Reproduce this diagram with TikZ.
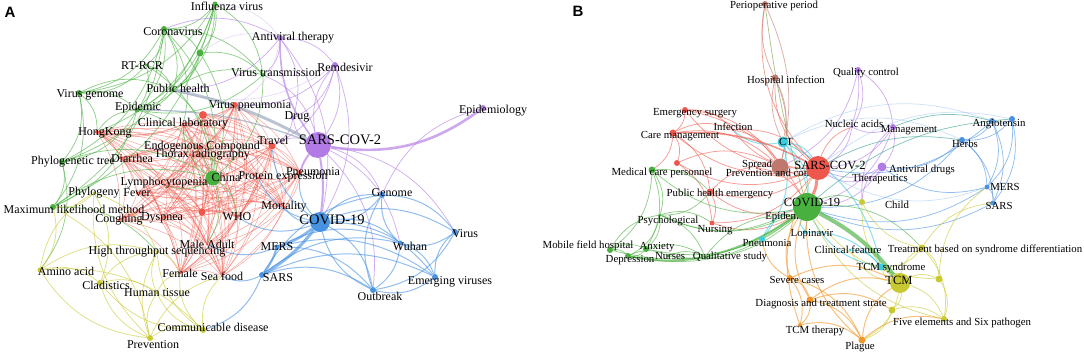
\documentclass[tikz,border=0pt]{standalone}
\usepackage{fontspec}
\setmainfont{Liberation Serif}
\newfontfamily\panelfont{Liberation Sans}
\usetikzlibrary{backgrounds}
\definecolor{cgreen}{RGB}{72,176,62}
\definecolor{cred}{RGB}{238,88,76}
\definecolor{cyel}{RGB}{200,200,48}
\definecolor{cblue}{RGB}{72,146,226}
\definecolor{cpurp}{RGB}{178,122,228}
\definecolor{ccyan}{RGB}{60,205,225}
\definecolor{corange}{RGB}{242,150,40}
\definecolor{cbrown}{RGB}{190,120,110}
\definecolor{cgray}{RGB}{150,165,185}
\definecolor{cteal}{RGB}{50,160,140}

\begin{document}
\begin{tikzpicture}[x=1pt,y=-1pt,
  every node/.style={font=\fontsize{12}{13}\selectfont},
  vtx/.style={circle,inner sep=0pt,minimum size=#1},
  lab/.style={inner sep=0pt,text=black},
  biglab/.style={inner sep=0pt,text=black,font=\fontsize{14.5}{15}\selectfont},
  labB/.style={inner sep=0pt,text=black,font=\fontsize{10.8}{12}\selectfont},
  biglabB/.style={inner sep=0pt,text=black,font=\fontsize{12.5}{13}\selectfont},
  ed/.style={draw=#1,line width=0.75pt,opacity=0.6},
  fat/.style={draw=#1,line width=2.4pt,opacity=0.65},
  panel/.style={font=\panelfont\bfseries\fontsize{15}{15}\selectfont}
]
\useasboundingbox (0,0) rectangle (1084,355);

% panel A: keywords
\foreach \n/\c/\x/\y/\s/\lx/\ly/\t in {
  flu/cgreen/215/4/5/227/6/Influenza virus,
  cor/cgreen/164/29/6/173/32/Coronavirus,
  rtp/cgreen/146/65/3/142/66/RT-RCR,
  vgen/cgreen/79/93/6/90/95/Virus genome,
  pub/cgreen/173/90/4/178/88/Public health,
  epi/cgreen/137/110/5/138/108/Epidemic,
  vpn/cred/235/105/6/250/106/Virus pneumonia,
  clin/cred/183/124/3/183/124/Clinical laboratory,
  hk/cred/97/132/4/105/133/HongKong,
  endo/cred/200/147/4/202/147/Endogenous Compound,
  trav/cred/272/146/7/273/140/Travel,
  diar/cred/120/158/3/132/158/Diarrhea,
  thor/cred/190/155/3/202/155/Thorax radiography,
  phy/cgreen/62/162/6/73/162/Phylogenetic tree,
  vtr/cgreen/263/75/4/276/73/Virus transmission,
  anti/cpurp/280/38/6/293/38/Antiviral therapy,
  rem/cpurp/335/65/6/345/67/Remdesivir,
  epid/cpurp/483/108/6/493/111/Epidemiology,
  drug/cpurp/293/118/4/297/117/Drug,
  pneu/cred/300/172/4/313/172/Pneumonia,
  prot/cred/258/178/3/283/177/Protein expression,
  china/cgreen/213/178/15/226/177/China,
  lym/cred/165/185/3/164/183/Lymphocytopenia,
  phyl/cyel/94/193/3/94/193/Phylogeny,
  fev/cred/137/193/3/137/193/Fever,
  mlm/cgreen/53/207/6/74/209/Maximum likelihood method,
  cough/cred/119/220/3/119/220/Coughing,
  dysp/cred/162/218/3/162/218/Dyspnea,
  who/cred/237/217/3/237/217/WHO,
  mort/cred/284/207/3/284/207/Mortality,
  male/cred/207/244/3/207/244/Male Adult,
  mers/cblue/277/247/5/277/247/MERS,
  hts/cyel/157/252/3/157/252/High throughput sequencing,
  amino/cyel/40/270/5/66/271/Amino acid,
  fem/cred/180/273/3/180/273/Female,
  sea/cred/222/276/3/222/276/Sea food,
  sars/cblue/262/275/6/278/278/SARS,
  clad/cyel/100/283/6/106/285/Cladistics,
  hum/cyel/157/293/3/157/293/Human tissue,
  comm/cyel/203/330/6/213/327/Communicable disease,
  prev/cyel/150/338/6/153/345/Prevention,
  gen/cblue/382/195/6/392/193/Genome,
  vir/cblue/455/232/6/465/234/Virus,
  wuh/cblue/400/243/5/410/246/Wuhan,
  emv/cblue/435/277/6/450/282/Emerging viruses,
  outb/cblue/373/290/6/380/296/Outbreak} {
  \node[vtx=\s pt,fill=\c] (\n) at (\x,\y) {};
  \node[lab] (\n-l) at (\lx,\ly) {\t};
}
\foreach \n/\c/\x/\y/\s/\lx/\ly/\t in {
  sarsA/cpurp/318/145/26/340/140/SARS-COV-2,
  covA/cblue/320/222/20/332/220/COVID-19} {
  \node[vtx=\s pt,fill=\c] (\n) at (\x,\y) {};
  \node[biglab] (\n-l) at (\lx,\ly) {\t};
}
\node[vtx=7pt,fill=cgreen] (gd) at (200,53) {};
\node[vtx=8pt,fill=cred] (rd1) at (203,115) {};
\node[vtx=7pt,fill=cred] (rd2) at (202,212) {};

% panel B: keywords
\foreach \n/\c/\x/\y/\s/\lx/\ly/\t in {
  peri/cbrown/765/4/6/774/6/Perioperative period,
  hosp/cbrown/775/78/7/786/81/Hospital infection,
  qual/cpurp/858/70/6/866/73/Quality control,
  emer/cred/685/110/6/695/113/Emergency surgery,
  inf/cred/733/130/3/733/127/Infection,
  care/cred/673/133/7/680/136/Care management,
  ct/ccyan/783/142/11/786/142/CT,
  nuc/cpurp/852/127/3/854/124/Nucleic acids,
  mgmt/cpurp/893/127/6/909/130/Management,
  ang/cblue/992/121/6/999/124/Angiotensin,
  herb/cblue/962/140/6/965/144/Herbs,
  pac/cbrown/780/167/17/775/173/Prevention and control,
  spr/cred/757/168/3/757/165/Spread,
  med/cgreen/652/170/7/662/173/Medical care personnel,
  avd/cpurp/882/167/9/922/170/Antiviral drugs,
  ther/cpurp/870/178/3/880/179/Therapeutics,
  phe/cred/710/192/7/720/194/Public health emergency,
  bmers/cblue/987/187/5/1005/187/MERS,
  bsars/cblue/993/203/5/999/206/SARS,
  child/cyel/862/202/6/897/205/Child,
  psy/cgreen/660/215/3/668/221/Psychological,
  nurs/cred/712/223/5/715/230/Nursing,
  bepi/cgreen/786/215/3/786/217/Epidemic,
  lop/ccyan/805/232/4/812/234/Lopinavir,
  bpn/ccyan/762/239/6/767/243/Pneumonia,
  mob/cgreen/610/250/6/588/246/Mobile field hospital,
  anx/cgreen/646/249/6/657/247/Anxiety,
  dep/cgreen/628/256/6/630/260/Depression,
  nrs/cgreen/668/256/3/670/256/Nurses,
  qs/cgreen/705/257/3/730/257/Qualitative study,
  clf/ccyan/850/250/3/848/250/Clinical feature,
  tbsd/cyel/922/248/7/985/250/Treatment based on syndrome differentiation,
  tcms/ccyan/881/267/7/891/268/TCM syndrome,
  sev/corange/790/278/6/797/280/Severe cases,
  diag/corange/810/300/7/821/304/Diagnosis and treatment strate,
  five/cyel/944/319/6/962/323/Five elements and Six pathogen,
  tcmt/corange/800/325/4/815/331/TCM therapy,
  plag/corange/862/340/7/860/347/Plague} {
  \node[vtx=\s pt,fill=\c] (\n) at (\x,\y) {};
  \node[labB] (\n-l) at (\lx,\ly) {\t};
}
\foreach \n/\c/\x/\y/\s/\lx/\ly/\t in {
  sarsB/cred/818/168/24/830/165/SARS-COV-2,
  covB/cgreen/807/207/28/812/202/COVID-19,
  tcm/cyel/900/283/20/899/280/TCM} {
  \node[vtx=\s pt,fill=\c] (\n) at (\x,\y) {};
  \node[biglabB] (\n-l) at (\lx,\ly) {\t};
}
\node[vtx=6pt,fill=cblue] (ang2) at (1012,119) {};
\node[vtx=6pt,fill=cred] (brd) at (677,163) {};
\node[vtx=7pt,fill=cyel] (yd1) at (939,279) {};
\node[vtx=7pt,fill=cyel] (yd2) at (892,310) {};

\node[panel] (pA) at (10,12) {A};
\node[panel] (pB) at (578,11) {B};

\begin{pgfonlayer}{background}
% panel A: links
\def\redset{vpn,rd1,clin,hk,endo,trav,diar,thor,pneu,prot,lym,fev,cough,dysp,rd2,who,mort,male,fem,sea}
\foreach \a [count=\i] in \redset {
  \foreach \b [count=\j] in \redset {
    \ifnum\j>\i \draw[ed=cred,line width=0.55pt,opacity=0.5] (\a) to[bend left=18] (\b); \fi
  }
}
\foreach \a/\b in {flu/vgen,flu/phy,flu/mlm,flu/cor,flu/epi,flu/pub,flu/vtr,flu/gd,cor/vgen,cor/epi,
  cor/pub,cor/clin,cor/china,cor/rtp,cor/vtr,cor/phy,cor/gd,gd/epi,gd/pub,gd/vtr,gd/china,rtp/epi,
  rtp/vgen,rtp/china,vgen/phy,vgen/mlm,vgen/epi,vgen/pub,pub/epi,pub/china,pub/vtr,epi/china,epi/phy,
  epi/mlm,phy/mlm,phy/china,mlm/china,vtr/china,vtr/epi,hk/epi,china/clin,china/lym,rtp/pub,
  vgen/hk,phy/amino,mlm/hts,china/who,china/male,cor/mlm,flu/hk}
  \draw[ed=cgreen] (\a) to[bend left=25] (\b);
\foreach \a/\b in {sarsA/rem,sarsA/drug,anti/rem,anti/drug,anti/vtr,cor/anti,anti/pub,rem/drug,
  rem/vpn,rem/trav,gen/epid,sarsA/outb,sarsA/wuh,trav/sarsA,sarsA/gen,sarsA/vir,rem/sarsA,
  vtr/sarsA,drug/trav,anti/covA,rem/covA}
  \draw[ed=cpurp] (\a) to[bend left=25] (\b);
\foreach \a/\b in {flu/anti,gd/anti,anti/vpn,rem/pub}
  \draw[ed=cpurp!45] (\a) to[bend left=25] (\b);
\foreach \a/\b in {covA/gen,covA/vir,covA/wuh,covA/emv,covA/outb,gen/vir,outb/gen,wuh/gen,vir/wuh,
  emv/vir,vir/outb,wuh/emv,wuh/outb,sars/wuh,sars/emv,sars/outb,emv/outb,sars/comm,mers/wuh,
  covA/mort,covA/who,sars/sea,mers/male,mers/outb,covA/trav,covA/pneu,mers/emv,sars/gen,
  outb/covA,covA/prot,gen/covA}
  \draw[ed=cblue,line width=1pt] (\a) to[bend left=25] (\b);
\foreach \a/\b in {prev/amino,prev/clad,prev/comm,prev/hum,prev/hts,mlm/prev,prev/phyl,comm/clad,
  comm/fem,comm/hum,comm/hts,amino/comm,amino/clad,amino/hts,amino/phyl,mlm/amino,clad/hts,
  clad/hum,hum/hts,phyl/hts,phyl/clad,hts/fem,prev/sea,comm/sea,hum/fem,phyl/mlm}
  \draw[ed=cyel] (\a) to[bend left=25] (\b);
\draw[fat=cgray,line width=3pt] (pub) to[bend left=8] (sarsA);
\draw[fat=cgray,line width=1.4pt] (epi) to[bend left=10] (sarsA);
\draw[fat=cpurp,line width=2.6pt] (epid) to[bend left=22] (sarsA);
\draw[fat=cpurp,line width=1.6pt] (sarsA) to[bend left=18] (anti);
\draw[fat=cpurp,line width=2pt] (pneu) to[bend left=10] (sarsA);
\draw[fat=cpurp,line width=2pt] (sarsA) to[bend left=8] (covA);
\draw[fat=cblue,line width=2.6pt] (covA) to[bend left=10] (mers);
\draw[fat=cblue,line width=3pt] (covA) to[bend left=10] (sars);
\draw[fat=cblue,line width=2pt] (mers) to[bend left=10] (sars);

% panel B: links
\foreach \a/\b in {sarsB/emer,sarsB/care,sarsB/inf,sarsB/spr,sarsB/phe,sarsB/nurs,sarsB/brd,
  sarsB/pac,sarsB/hosp,sarsB/nuc,emer/care,emer/inf,care/inf,care/brd,care/pac,emer/pac,inf/pac,
  phe/nurs,brd/pac,covB/phe,covB/nurs,care/med,emer/covB,inf/sarsB,brd/nurs,phe/pac,spr/covB,
  care/phe,sarsB/peri}
  \draw[ed=cred] (\a) to[bend left=25] (\b);
\foreach \a/\b in {peri/pac,hosp/peri,hosp/pac,hosp/ct,ct/hosp}
  \draw[ed=cbrown] (\a) to[bend left=18] (\b);
\draw[ed=cgreen!60!brown] (peri) to[bend right=4] (covB);
\foreach \a/\b in {qual/mgmt,qual/nuc,qual/sarsB,mgmt/avd,mgmt/nuc,mgmt/sarsB,avd/sarsB,ther/sarsB,
  avd/ther,child/mgmt,mgmt/covB,avd/covB,nuc/sarsB,qual/pac,child/avd}
  \draw[ed=cpurp] (\a) to[bend left=25] (\b);
\foreach \a/\b in {ct/sarsB,ct/pac,ct/covB,ct/lop,ct/bpn,ct/tcms,lop/tcms,bpn/covB,clf/tcms,
  lop/covB,ct/inf,tcms/covB}
  \draw[ed=ccyan,line width=1pt] (\a) to[bend left=25] (\b);
\foreach \a/\b in {herb/ct,ang/ct,sarsB/bmers,ang2/sarsB}
  \draw[ed=cblue!45] (\a) to[bend right=25] (\b);
\foreach \a/\b in {ang/herb,ang/bmers,ang/bsars,herb/bmers,herb/bsars,bmers/bsars,ang2/herb,
  ang2/bmers,ang2/ang,herb/covB,bmers/covB,bsars/covB,ang/sarsB,herb/avd,bmers/avd,ang2/bsars}
  \draw[ed=cblue] (\a) to[bend left=25] (\b);
\foreach \a/\b in {ang/mgmt,ang2/covB,herb/sarsB}
  \draw[ed=cteal] (\a) to[bend right=18] (\b);
\foreach \a/\b in {covB/bepi,covB/psy,covB/anx,covB/dep,covB/mob,covB/nrs,covB/med,med/psy,med/anx,
  med/mob,psy/anx,psy/dep,psy/nurs,psy/qs,anx/dep,mob/dep,mob/anx,dep/nrs,nrs/qs,anx/qs,qs/bepi,
  covB/child,covB/tbsd,phe/psy,med/phe,bepi/psy,mob/psy}
  \draw[ed=cgreen] (\a) to[bend left=25] (\b);
\foreach \a/\b in {tcm/tbsd,tcm/yd1,tcm/yd2,tcm/five,tcm/plag,tbsd/five,tbsd/yd1,yd1/five,yd2/five,
  yd2/plag,tcm/tcms,tcm/child,tbsd/bsars,yd1/bmers,tcm/clf,tbsd/child,five/covB,yd1/covB,tbsd/tcms}
  \draw[ed=cyel] (\a) to[bend left=25] (\b);
\foreach \a/\b in {sev/diag,sev/tcmt,sev/plag,diag/tcmt,diag/plag,tcmt/plag,plag/tcm,diag/tcm,
  sev/covB,diag/covB,plag/covB,sev/bpn,tcmt/sarsB,diag/yd2,sev/tcm,plag/five}
  \draw[ed=corange,line width=1pt] (\a) to[bend left=25] (\b);
\draw[fat=cgreen,line width=4pt] (covB) to[bend left=12] (tcm);
\draw[fat=cgreen,line width=2pt] (dep) to[bend right=10] (qs);
\draw[fat=cgreen,line width=1.8pt] (qs) to[bend right=10] (covB);
\draw[fat=cred,line width=3pt] (sarsB) to[bend left=10] (covB);
\draw[fat=cred,line width=1.5pt] (sarsB) to[bend right=15] (care);
\end{pgfonlayer}
\end{tikzpicture}
\end{document}
